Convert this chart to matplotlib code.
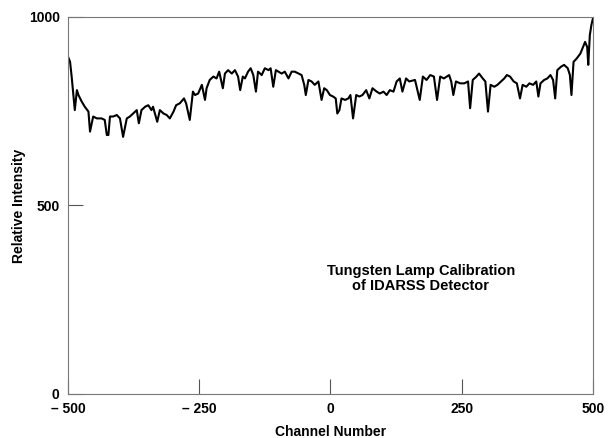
import matplotlib
matplotlib.use('Agg')
import matplotlib.pyplot as plt

plt.rcParams['font.family'] = ['Liberation Sans', 'DejaVu Sans']

# Lampara de tungsteno
canal = [-500, -496, -493, -490, -487, -483, -480, -474, -468, -461, -458, -452, -445,
         -436, -430, -426, -423, -420, -414, -407, -401, -395, -388, -382, -376, -369,
         -365, -360, -353, -347, -341, -338, -330, -325, -318, -312, -306, -299, -294,
         -287, -279, -275, -268, -262, -258, -252, -245, -239, -236, -230, -223, -217,
         -212, -205, -201, -195, -188, -182, -176, -172, -167, -163, -157, -152, -147,
         -142, -138, -131, -125, -118, -114, -109, -104, -99, -93, -87, -80, -74, -68,
         -61, -55, -50, -47, -42, -36, -30, -23, -17, -12, -7, -1, 5, 10, 13, 17, 21,
         28, 34, 38, 43, 49, 55, 61, 68, 74, 80, 88, 94, 101, 107, 113, 120, 126, 132,
         137, 144, 150, 161, 170, 176, 183, 190, 197, 203, 209, 216, 226, 230, 234, 239,
         247, 255, 262, 266, 271, 278, 283, 290, 295, 300, 305, 312, 318, 325, 331, 336,
         342, 349, 355, 361, 366, 373, 379, 386, 392, 396, 400, 407, 413, 419, 424, 428,
         432, 439, 445, 452, 456, 459, 463, 469, 476, 481, 485, 489, 491, 494, 497, 500]
intensidad = [895, 881, 842, 798, 753, 806, 793, 776, 762, 749, 696, 736, 731,
              731, 727, 687, 687, 736, 736, 740, 731, 682, 731, 736, 744, 753,
              718, 753, 762, 766, 753, 762, 722, 753, 744, 740, 731, 749, 766,
              771, 784, 771, 727, 802, 793, 797, 820, 780, 811, 833, 842, 837,
              855, 811, 850, 859, 850, 859, 842, 806, 842, 837, 855, 864, 846,
              802, 855, 846, 864, 859, 864, 815, 859, 855, 850, 855, 837, 855, 855,
              850, 846, 820, 793, 833, 829, 820, 829, 780, 811, 806, 793, 789, 784, 744, 753, 784,
              780, 784, 793, 731, 793, 789, 793, 806, 784, 811, 802, 797, 802, 793, 806, 802, 829, 837,
              802, 837, 829, 833, 780, 842, 833, 846, 842, 780, 842, 837, 846, 829, 793, 829,
              824, 824, 829, 758, 833, 842, 850, 837, 829, 749, 820, 815, 820, 829, 837, 846,
              842, 829, 824, 784, 820, 815, 824, 820, 829, 789, 824, 833, 837, 846, 833, 784,
              859, 868, 873, 864, 846, 793, 881, 890, 903, 920, 934, 920, 873, 952, 979, 997]

xticks = [-500, -250, 0, 250, 500]
xticklabels = ['\u2013 500', '\u2013 250', '0', '250', '500']
yticks = [0, 500, 1000]

fig = plt.figure(figsize=(6.08, 4.38), dpi=100)
ax = fig.add_axes([0.1118, 0.1005, 0.8635, 0.8607])

ax.plot(canal, intensidad, color='black', linewidth=1.5)

ax.set_xlim(-500, 500)
ax.set_ylim(0, 1000)
ax.set_xticks(xticks)
ax.set_xticklabels(xticklabels)
ax.set_yticks(yticks)
ax.set_yticklabels([str(v) for v in yticks])
ax.tick_params(direction='in', length=11, width=0.8, color='#555555',
               labelsize=10, pad=6)
for lbl in ax.get_xticklabels() + ax.get_yticklabels():
    lbl.set_fontweight('bold')
for s in ax.spines.values():
    s.set_color('#777777')
    s.set_linewidth(0.8)

ax.set_xlabel('Channel Number', fontsize=10, fontweight='bold')
ax.set_ylabel('Relative Intensity', fontsize=10, fontweight='bold')
ax.xaxis.set_label_coords(0.5, -0.083)
ax.yaxis.set_label_coords(-0.080, 0.5)

ax.text(172, 306, 'Tungsten Lamp Calibration\nof IDARSS Detector',
        ha='center', va='center', fontsize=10.5, fontweight='bold', linespacing=1.15)

fig.savefig('out.png', dpi=100)
